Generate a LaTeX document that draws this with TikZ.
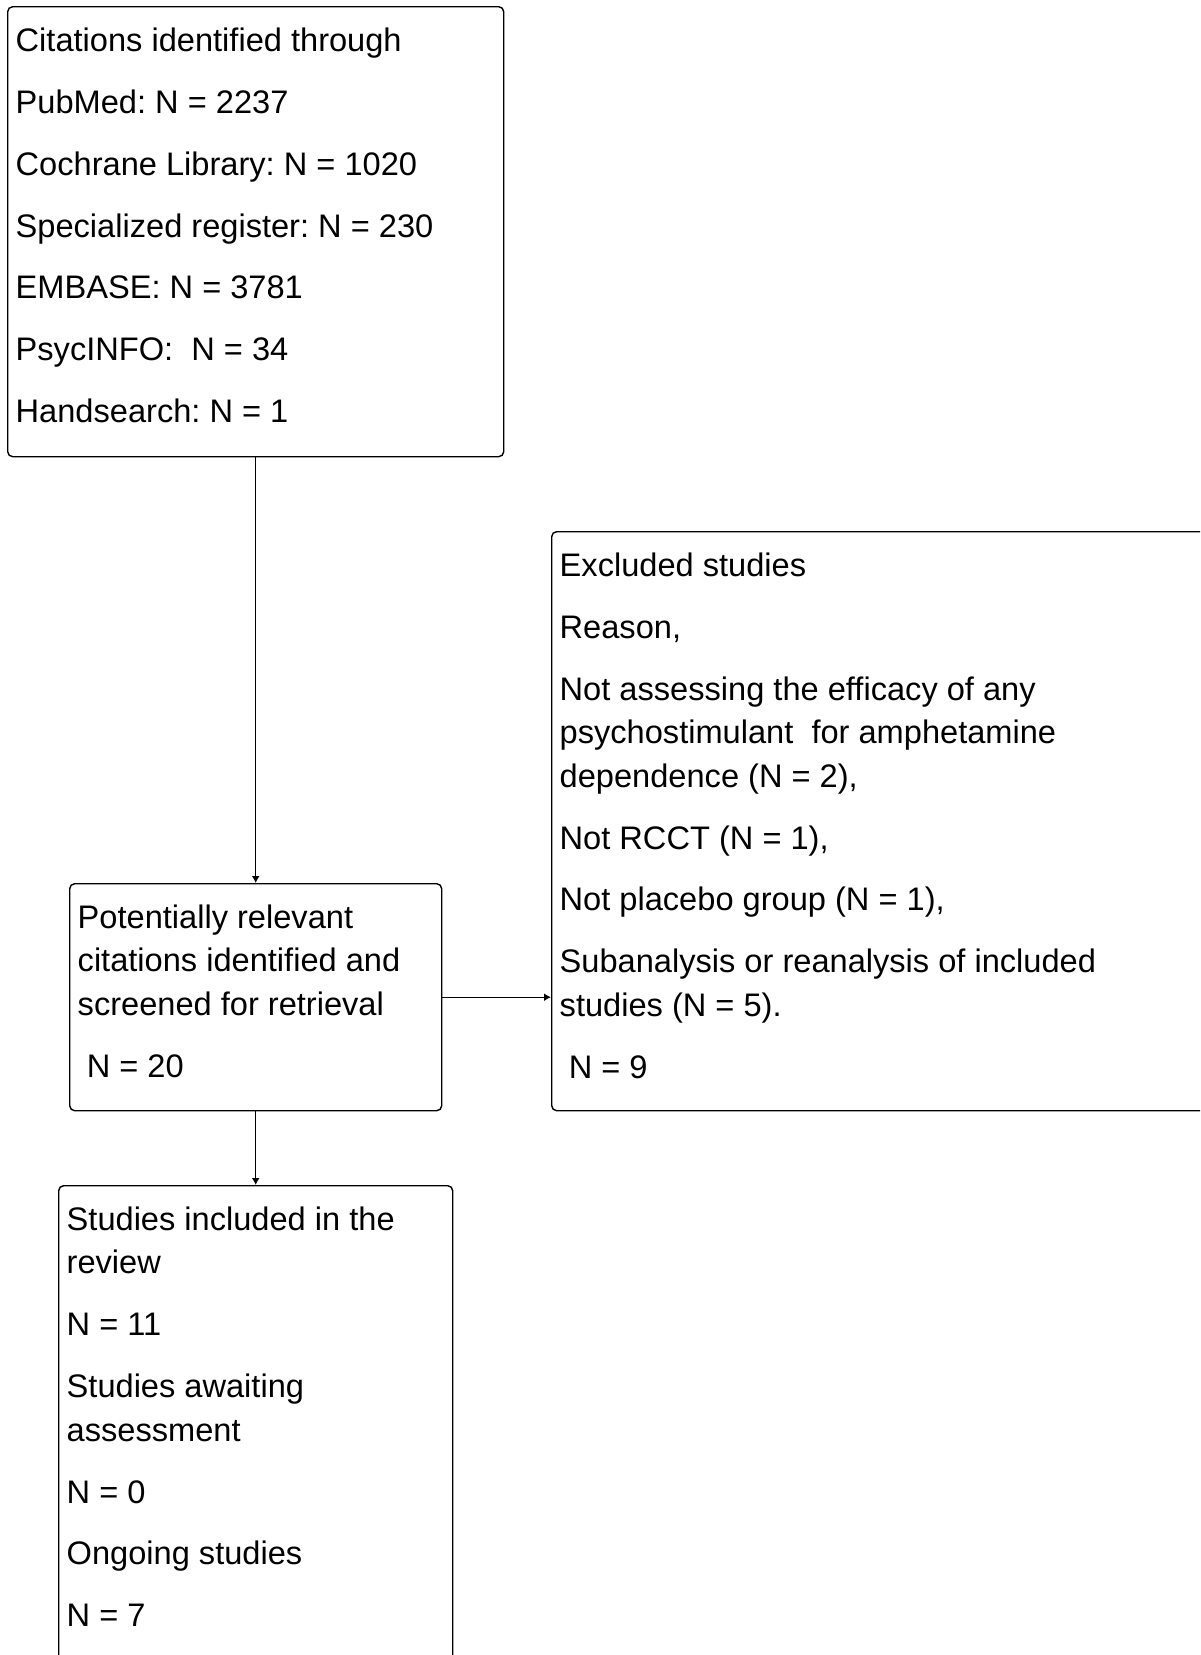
\documentclass[tikz,border=0pt]{standalone}
\usepackage{fontspec}
\setmainfont{Liberation Sans}
\usetikzlibrary{arrows.meta}
\tikzset{
	flowbox/.style={draw, rounded corners=2.5pt, inner sep=0pt, anchor=north west},
	flowtext/.style={anchor=north west, inner sep=0pt, align=left, font=\fontsize{16.3}{21.75}\selectfont\frenchspacing},
}
\begin{document}
\begin{tikzpicture}[x=0.5pt, y=-0.5pt, line width=0.7pt, >={Latex[length=3.5pt,width=4pt]}]
	\clip (0,0) rectangle (1200,1655);
	\node[flowbox, minimum width=248pt, minimum height=225pt] (search) at (7,6) {};
	\node[flowbox, minimum width=186pt, minimum height=113.5pt] (screened) at (69,883) {};
	\node[flowbox, minimum width=344.5pt, minimum height=289.5pt] (excluded) at (551,531) {};
	\node[flowbox, minimum width=197pt, minimum height=257.5pt] (included) at (58,1185) {};
	\node[flowtext] (searchtext) at ([xshift=4pt,yshift=-10.5pt]search.north west) {Citations identified through\\[9.2pt]
		PubMed: N = 2237\\[9.2pt]
		Cochrane Library: N = 1020\\[9.2pt]
		Specialized register: N = 230\\[9.2pt]
		EMBASE: N = 3781\\[9.2pt]
		PsycINFO:\ \ N = 34\\[9.2pt]
		Handsearch: N = 1};
	\node[flowtext] (screenedtext) at ([xshift=4pt,yshift=-10.5pt]screened.north west) {Potentially relevant\\
		citations identified and\\
		screened for retrieval\\[9.2pt]
		\ N = 20};
	\node[flowtext] (excludedtext) at ([xshift=4pt,yshift=-10.5pt]excluded.north west) {Excluded studies\\[9.2pt]
		Reason,\\[9.2pt]
		Not assessing the efficacy of any\\
		psychostimulant\ \ for amphetamine\\
		dependence (N = 2),\\[9.2pt]
		Not RCCT (N = 1),\\[9.2pt]
		Not placebo group (N = 1),\\[9.2pt]
		Subanalysis or reanalysis of included\\
		studies (N = 5).\\[9.2pt]
		\ N = 9};
	\node[flowtext] (includedtext) at ([xshift=4pt,yshift=-10.5pt]included.north west) {Studies included in the\\
		review\\[9.2pt]
		N = 11\\[9.2pt]
		Studies awaiting\\
		assessment\\[9.2pt]
		N = 0\\[9.2pt]
		Ongoing studies\\[9.2pt]
		N = 7};
	\draw[->] (search) -- (screened);
	\draw[->] (screened) -- (included);
	\draw[->] (screened.east) -- (screened.east -| excluded.west);
\end{tikzpicture}
\end{document}
